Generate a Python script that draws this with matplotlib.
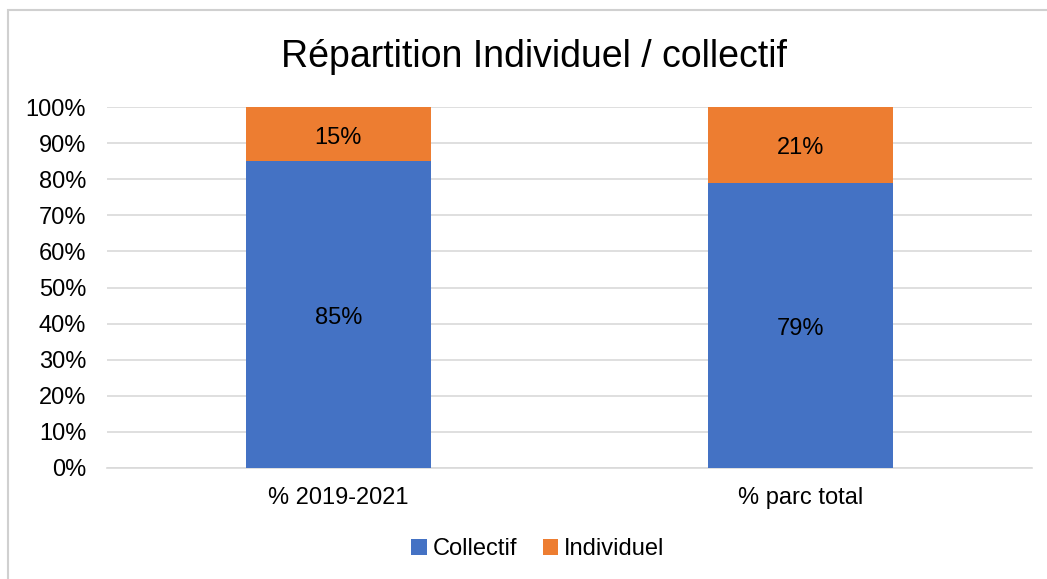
import matplotlib.pyplot as plt
from matplotlib.patches import Rectangle
from matplotlib.ticker import PercentFormatter

plt.rcParams['font.family'] = ['Liberation Sans', 'DejaVu Sans']

# data
categories = ["% 2019-2021", "% parc total"]
collectif = [85, 79]
individuel = [15, 21]
series_names = ["Collectif", "Individuel"]
colors = ["#4472C4", "#ED7D31"]

fig = plt.figure(figsize=(10.47, 5.79), dpi=100)
W, H = 1047, 579

# chart frame (light grey border, cut by the right and bottom image edges)
fig.patches.append(Rectangle((8 / W, -0.2), 1.2, 1.2 - 10 / H, transform=fig.transFigure,
                             fill=False, edgecolor="#d0d0d0", linewidth=1.5))

ax = fig.add_axes([107 / W, 1 - 468 / H, (1032 - 107) / W, (468 - 107) / H])

x = range(len(categories))
b1 = ax.bar(x, collectif, width=0.4, color=colors[0], label=series_names[0], zorder=3)
b2 = ax.bar(x, individuel, width=0.4, bottom=collectif, color=colors[1],
            label=series_names[1], zorder=3)

for bars, vals in ((b1, collectif), (b2, individuel)):
    texts = ax.bar_label(bars, labels=[f"{v}%" for v in vals], label_type="center",
                         fontsize=17, color="#000000")
    # nudge slightly lower, as in the original
    for t in texts:
        t.xyann = (0, -2.5)

ax.set_xlim(-0.5, 1.5)
ax.set_ylim(0, 100)
ax.set_yticks(range(0, 101, 10))
ax.yaxis.set_major_formatter(PercentFormatter(decimals=0))
ax.set_xticks(list(x))
ax.set_xticklabels(categories)
ax.tick_params(axis="both", length=0, labelsize=17, colors="#000000")
ax.tick_params(axis="y", pad=15)
ax.tick_params(axis="x", pad=14)
ax.grid(axis="y", color="#d9d9d9", linewidth=1.2, zorder=0)
for s in ("top", "right", "left"):
    ax.spines[s].set_visible(False)
ax.spines["bottom"].set_color("#d9d9d9")
ax.spines["bottom"].set_linewidth(1.2)

fig.text(534 / W, 1 - 57 / H, "Répartition Individuel / collectif", fontsize=27,
         ha="center", va="center")

fig.legend(loc="center", bbox_to_anchor=(538 / W, 1 - 549 / H), ncol=2, frameon=False,
           fontsize=17, handlelength=0.65, handleheight=0.65, handletextpad=0.25,
           columnspacing=1.1)

fig.savefig("out.png", dpi=100)
